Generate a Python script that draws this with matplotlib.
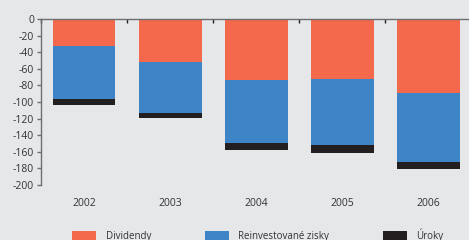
import numpy as np
import matplotlib.pyplot as plt
from matplotlib.ticker import FixedLocator

years = ['2002', '2003', '2004', '2005', '2006']
dividendy = [-32, -51.5, -73.5, -72.5, -89]
reinvest = [-64.5, -62, -76, -79.5, -83]
uroky = [-7, -5.5, -8, -9, -9]

labels = ['Dividendy', 'Reinvestované zisky', 'Úroky']
colors = ['#f4694b', '#3d85c6', '#231f20']

plt.rcParams['font.family'] = ['Open Sans', 'DejaVu Sans']
plt.rcParams['font.size'] = 7.5
plt.rcParams['axes.unicode_minus'] = False

bg = '#e6e7e9'
fig = plt.figure(figsize=(4.69, 2.40), dpi=100, facecolor=bg)
ax = fig.add_axes([41/469, 55/240, 428/469, 166/240], facecolor=bg)

x = np.arange(len(years))
w = 0.73
d = np.array(dividendy)
r = np.array(reinvest)
u = np.array(uroky)
ax.bar(x, d, w, color=colors[0], label=labels[0])
ax.bar(x, r, w, bottom=d, color=colors[1], label=labels[1])
ax.bar(x, u, w, bottom=d + r, color=colors[2], label=labels[2])

ax.set_ylim(-200, 0)
ax.set_xlim(-0.5, 4.47)
ax.set_yticks(range(-200, 1, 20))
ax.set_xticks(x)
ax.set_xticklabels(years)
ax.xaxis.set_minor_locator(FixedLocator([-0.5, 0.5, 1.5, 2.5, 3.5]))

for s in ['right', 'bottom']:
    ax.spines[s].set_visible(False)
for s in ['left', 'top']:
    ax.spines[s].set_color('#6d6e70')
    ax.spines[s].set_linewidth(1)

ax.tick_params(axis='y', length=3, width=1, color='#6d6e70', labelcolor='#333333', pad=2)
ax.tick_params(axis='x', which='major', length=0, pad=9, labelcolor='#333333')
ax.tick_params(axis='x', which='minor', bottom=False, top=True, direction='in',
               length=3, width=1, color='#231f20')

fig.legend(loc='upper left', bbox_to_anchor=(72/469, 12/240), ncol=3, frameon=False,
           fontsize=7, handlelength=2.47, handleheight=1.0, handletextpad=1.0,
           columnspacing=5.5, borderpad=0, borderaxespad=0, labelcolor='#333333')

fig.savefig('out.png', dpi=100, facecolor=bg)
